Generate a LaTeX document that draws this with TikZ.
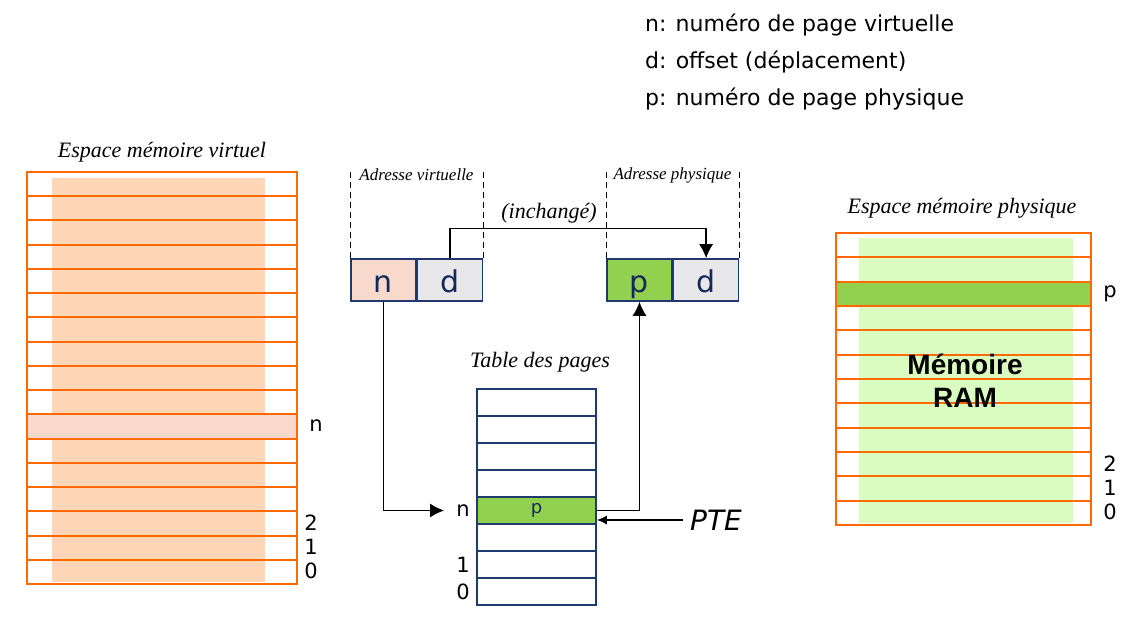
\documentclass[tikz,border=0pt]{standalone}
\usepackage{fontspec}
\usetikzlibrary{arrows.meta,positioning}
\newfontfamily\verd{DejaVu Sans}
\newfontfamily\arl{Liberation Sans}
\newfontfamily\tms{Liberation Serif}
\definecolor{memorange}{HTML}{FF6A00}
\definecolor{peach}{HTML}{FFD6B8}
\definecolor{pinkn}{HTML}{F8D9CC}
\definecolor{grayd}{HTML}{E8E8EA}
\definecolor{greenp}{HTML}{92D050}
\definecolor{lightgreen}{HTML}{DAFCC0}
\definecolor{navy}{HTML}{1F3A6E}
\definecolor{navytext}{HTML}{14285A}
\tikzset{
  legend/.style={anchor=west, font=\verd\fontsize{11}{13}\selectfont},
  title/.style={font=\tms\itshape\fontsize{11}{13}\selectfont},
  small/.style={font=\tms\itshape\fontsize{8.5}{10}\selectfont},
  num/.style={font=\verd\fontsize{10.5}{12}\selectfont, inner sep=1pt},
  memrule/.style={draw=memorange, line width=1pt},
  addr/.style={draw=navy, line width=0.8pt, minimum width=32.5pt, minimum height=21pt,
    inner sep=0pt, text height=12pt, text depth=0pt, text=navytext,
    font=\verd\fontsize{15}{16}\selectfont},
  tabrow/.style={draw=navy, line width=0.8pt, minimum width=59.5pt, minimum height=13.5pt,
    inner sep=0pt, text=navytext, font=\verd\fontsize{9}{10}\selectfont},
  arr/.style={line width=0.7pt, -{Latex[length=7pt,width=7pt]}}
}
\begin{document}
\begin{tikzpicture}[x=0.5pt,y=-0.5pt]
\useasboundingbox (0,0) rectangle (1146,631);

% legende
\node[legend] (leg1) at (638,25) {n: numéro de page virtuelle};
\node[legend] (leg2) at (638,62) {d: offset (déplacement)};
\node[legend] (leg3) at (638,99) {p: numéro de page physique};

% espace memoire virtuel
\node[title] (tvirt) at (162,152) {Espace mémoire virtuel};
\fill[peach] (52,178) rectangle (265,582);
\fill[pinkn] (27,414.4) rectangle (297,438.6);
\foreach \i in {1,...,16}
	\draw[memrule] (27,{172+\i*24.235}) -- (297,{172+\i*24.235});
\draw[memrule] (27,172) rectangle (297,584);
\node[num] (vmn) at (316,426) {n};
\node[num] (vm2) at (311,523) {2};
\node[num] (vm1) at (311,547) {1};
\node[num] (vm0) at (311,571) {0};

% espace memoire physique
\node[title] (tphys) at (962,208) {Espace mémoire physique};
\fill[lightgreen] (859,238) rectangle (1073,523);
\fill[greenp] (836,281.7) rectangle (1091,306);
\foreach \i in {1,...,11}
	\draw[memrule] (836,{233+\i*24.33}) -- (1091,{233+\i*24.33});
\draw[memrule] (836,233) rectangle (1091,525);
\node[font=\arl\bfseries\fontsize{14}{16.5}\selectfont, align=center] (ram) at (965,381) {Mémoire\\RAM};
\node[num] (pmp) at (1110,294) {p};
\node[num] (pm2) at (1110,464) {2};
\node[num] (pm1) at (1110,488) {1};
\node[num] (pm0) at (1110,512) {0};

% adresses
\node[addr, fill=pinkn] (vn) at (383.5,280) {n};
\node[addr, fill=grayd, right=0pt of vn] (vd) {d};
\node[addr, fill=greenp] (pp) at (639.5,280) {p};
\node[addr, fill=grayd, right=0pt of pp] (pd) {d};
\draw[densely dashed] (vn.north west) -- ++(0,-87);
\draw[densely dashed] (vd.north east) -- ++(0,-87);
\draw[densely dashed] (pp.north west) -- ++(0,-87);
\draw[densely dashed] (pd.north east) -- ++(0,-87);
\node[small] (avirt) at (416.5,175) {Adresse virtuelle};
\node[small] (aphys) at (672.5,175) {Adresse physique};
\node[title] (inch) at (549,213) {(inchangé)};
\draw[arr] (vd.north) -- ++(0,-30) -| (pd.north);

% table des pages
\node[title] (ttab) at (540,362) {Table des pages};
\foreach \i in {0,...,7}
	\node[tabrow] (t\i) at (536.5,{389+(\i+0.5)*27}) {};
\node[tabrow, fill=greenp] at (t4) {p};
\node[num, left=2pt of t4] (tn) {n};
\node[num, left=2pt of t6] (t1) {1};
\node[num, left=2pt of t7] (t0) {0};
\draw[arr, shorten >=5pt] (vn.south) |- (tn.west);
\draw[arr] (t4.east) -| (pp.south);
\node[font=\verd\itshape\fontsize{14}{16}\selectfont] (pte) at (716,520) {PTE};
\draw[line width=0.7pt, -{Latex[length=5pt,width=4.5pt]}] (pte.west) -- (t4.east |- pte.west);
\end{tikzpicture}
\end{document}
